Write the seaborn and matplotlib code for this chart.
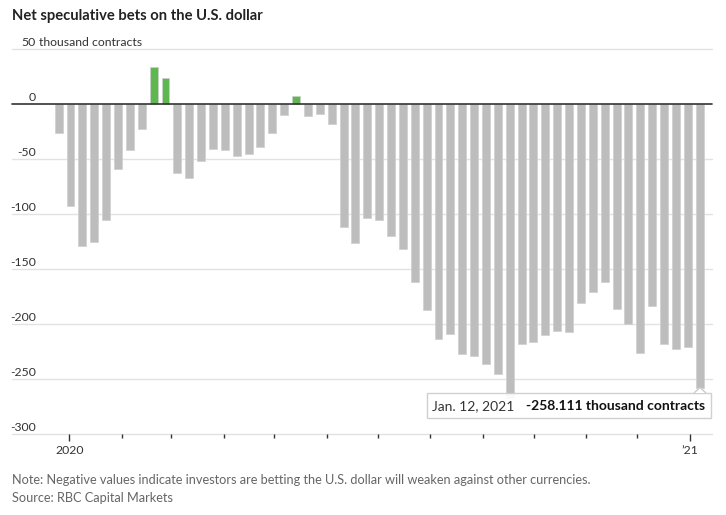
import matplotlib
matplotlib.use("Agg")
import matplotlib.pyplot as plt
from matplotlib.patches import Rectangle, Polygon
from matplotlib.transforms import blended_transform_factory
import seaborn as sns
import pandas as pd
import numpy as np

# ---- data (thousand contracts), weekly, Dec 31 2019 .. Jan 12 2021 ----
week_labels = pd.date_range("2019-12-31", "2021-01-12", freq="7D").strftime("%Y-%m-%d").tolist()
net_bets = [-26, -93, -129, -125, -105, -59, -42, -23, 34, 24,
            -63, -67, -52, -41, -42, -47, -45, -39, -26, -10,
            7, -11, -9, -18, -112, -126, -104, -105, -120, -132,
            -162, -187, -214, -209, -227, -229, -236, -245, -267, -218,
            -216, -210, -206, -207, -181, -171, -162, -186, -200, -226,
            -184, -218, -223, -221, -258.111]
y_ticks = [50, 0, -50, -100, -150, -200, -250, -300]
y_tick_labels = ["50", "0", "-50", "-100", "-150", "-200", "-250", "-300"]
month_starts = pd.date_range("2020-01-01", "2021-01-01", freq="MS")
title = "Net speculative bets on the U.S. dollar"
unit = "thousand contracts"
note = "Note: Negative values indicate investors are betting the U.S. dollar will weaken against other currencies."
source = "Source: RBC Capital Markets"
ann_date = "Jan. 12, 2021"
ann_value = "-258.111 thousand contracts"

df = pd.DataFrame({"week": week_labels, "value": net_bets})
df["sign"] = np.where(df["value"] >= 0, "pos", "neg")

W, H = 726, 515
fig = plt.figure(figsize=(W / 100, H / 100), dpi=100)
sns.set_style("white")
narrow = ["Lato", "DejaVu Sans"]
plt.rcParams["font.family"] = narrow

def fx(px):
    return px / W

def fy(py):
    return 1 - py / H

ax_left, ax_right = 12, 712
ax_top, ax_bot = 49, 434
ax = fig.add_axes([fx(ax_left), fy(ax_bot), fx(ax_right - ax_left), (ax_bot - ax_top) / H])

sns.barplot(data=df, x="week", y="value", hue="sign",
            palette={"pos": "#5fb84f", "neg": "#bdbdbd"},
            dodge=False, width=0.67, legend=False, ax=ax,
            edgecolor="#cfcfcf", linewidth=0.5, saturation=1)

ax.set_ylim(-300, 50)
ax.set_xlim(-3.93, 55.04)
for s in ax.spines.values():
    s.set_visible(False)

for v in y_ticks:
    if v == 0:
        continue
    ax.axhline(v, color="#e2e2e2", lw=1, zorder=0, clip_on=False)
ax.axhline(0, color="#333333", lw=1.2, zorder=3, clip_on=False)

# y labels above gridlines, right-aligned
tr = blended_transform_factory(fig.transFigure, ax.transData)
for v, lab in zip(y_ticks, y_tick_labels):
    ax.text(fx(36), v + 1.2, lab, transform=tr, ha="right", va="bottom",
            fontsize=8.8, color="#333333", family=narrow)
ax.text(fx(39), y_ticks[0] + 1.2, unit, transform=tr, ha="left", va="bottom",
        fontsize=8.8, color="#333333", family=narrow)
ax.set_yticks([])
ax.set_ylabel("")
ax.set_xlabel("")

# x ticks: month starts mapped onto bar index axis
first = pd.Timestamp("2020-01-01")
pos = [0.89 + (m - first).days / 7 for m in month_starts]
ax.set_xticks([pos[0], pos[-1]])
ax.set_xticklabels(["2020", "\u201921"], fontsize=8.8, color="#333333")
ax.set_xticks(pos[1:-1], minor=True)
ax.tick_params(axis="x", which="major", length=5, width=1, color="#333333", pad=3, direction="out", bottom=True)
ax.tick_params(axis="x", which="minor", length=3, width=1, color="#333333", bottom=True)
ax.tick_params(axis="y", left=False)

# title and notes
fig.text(fx(12), fy(16), title, ha="left", va="center", fontsize=10.6,
         fontweight="bold", color="#222222", family=["Lato", "DejaVu Sans"])
fig.text(fx(12), fy(480), note, ha="left", va="center", fontsize=9.2, color="#666666", family=narrow)
fig.text(fx(12), fy(498), source, ha="left", va="center", fontsize=9.2, color="#666666", family=narrow)

# annotation box
bx0, bx1, by0, by1 = 427, 711, 393, 418
fig.patches.append(Rectangle((fx(bx0), fy(by1)), fx(bx1 - bx0), (by1 - by0) / H,
                             transform=fig.transFigure, facecolor="white", alpha=0.92,
                             edgecolor="#cccccc", lw=1, zorder=5))
fig.patches.append(Polygon([(fx(694), fy(by0)), (fx(700), fy(387.5)), (fx(706), fy(by0))],
                           closed=False, transform=fig.transFigure, facecolor="white",
                           edgecolor="#cccccc", lw=1, zorder=6))
fig.text(fx(432), fy(406), ann_date, ha="left", va="center", fontsize=10,
         color="#333333", family=narrow, zorder=7)
fig.text(fx(705), fy(406), ann_value, ha="right", va="center", fontsize=10,
         fontweight="bold", color="#111111", family=narrow, zorder=7)

fig.savefig("out.png", dpi=100)
